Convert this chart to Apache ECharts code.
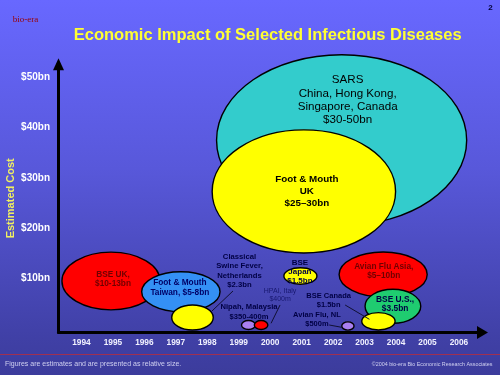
<!DOCTYPE html>
<html><head><meta charset="utf-8">
<script src="https://cdn.jsdelivr.net/npm/echarts@6/dist/echarts.min.js"></script>
<style>
html,body{margin:0;padding:0;}
#c{width:500px;height:375px;background:linear-gradient(to bottom,#6868FF 0%,#5858DA 45%,#4040A6 90%,#3C3C9C 100%);}
</style>
</head><body><div id="c"></div>
<script>
// ---- data ----
const years = [1994,1995,1996,1997,1998,1999,2000,2001,2002,2003,2004,2005,2006];
const costTicks = [10,20,30,40,50];
const diseases = ['SARS','Foot & Mouth UK','BSE UK','Foot & Mouth Taiwan','Classical Swine Fever Netherlands',
  'Nipah Malaysia','HPAI Italy','BSE Japan','Avian Flu Asia','BSE U.S.','BSE Canada','Avian Flu NL'];
const labelTexts = [
  'SARS\nChina, Hong Kong,\nSingapore, Canada\n$30-50bn',
  'Foot & Mouth\nUK\n$25\u201330bn',
  'BSE UK,\n$10-13bn',
  'Foot & Mouth\nTaiwan, $5-8bn',
  'Classical\nSwine Fever,\nNetherlands\n$2.3bn',
  'Nipah, Malaysia\n$350-400m',
  'HPAI, Italy\n$400m',
  'BSE\nJapan\n$1.5bn',
  'Avian Flu Asia,\n$5\u201310bn',
  'BSE U.S.,\n$3.5bn',
  'BSE Canada\n$1.5bn',
  'Avian Flu, NL\n$500m'
];
// bubble centre (year, $bn) and relative size (extent in years, extent in $bn)
const yearCenter = [2002.27,2001.07,1994.94,1997.16,1997.53,1999.31,1999.71,2000.96,2003.59,2003.90,2003.44,2002.47];
const costCenter = [37.5,27.3,9.47,7.34,2.21,0.72,0.72,10.47,10.77,4.44,1.45,0.52];
const yearSpan   = [7.95,5.83,3.12,2.49,1.32,0.445,0.43,1.05,2.80,1.77,1.06,0.39];
const costSpan   = [34.0,24.5,11.5,7.96,4.98,1.79,1.79,3.28,8.96,6.77,3.44,1.65];

// ---- styles / label layout (pixels) ----
const FONT = '"Liberation Sans", Arial, Helvetica, sans-serif';
const styles = [
  {fill:'#33CCCC', color:'#000000', size:11.6, bold:false, lh:13.3, off:[6,-40]},
  {fill:'#FFFF00', color:'#000000', size:9.8, bold:true, lh:12.3, off:[3,0]},
  {fill:'#FF0000', color:'#700000', size:8.3, bold:true, lh:9, off:[2,-2]},
  {fill:'#3490F5', color:'#000066', size:8.3, bold:true, lh:10, off:[-1,-4.4]},
  {fill:'#FFFF00', color:'#000044', size:7.7, bold:true, lh:9.4, off:[47,-46.7], lead:[19.5,-6.5,40.5,-26.5]},
  {fill:'#A97FF0', color:'#000044', size:7.6, bold:true, lh:9.5, off:[0.5,-13.2]},
  {fill:'#FF0000', color:'#181870', size:7, bold:false, lh:8, off:[19,-30], lead:[10,-1.7,19,-20]},
  {fill:'#FFFF00', color:'#000044', size:8, bold:true, lh:9, off:[-0.5,-4.3]},
  {fill:'#FF0000', color:'#700000', size:8.3, bold:true, lh:9, off:[0.6,-3.3]},
  {fill:'#1FCC70', color:'#000044', size:8.4, bold:true, lh:9, off:[2.2,-1.8]},
  {fill:'#FFFF00', color:'#000044', size:7.5, bold:true, lh:8.5, off:[-49.8,-21], lead:[-33.3,-16.3,-9,-2]},
  {fill:'#A97FF0', color:'#000044', size:7.5, bold:true, lh:8.5, off:[-31,-6.4], lead:[-18.7,-1,-6.3,1.3]}
];

const bubbleData = diseases.map((n,i)=>({name:n, value:[yearCenter[i],costCenter[i],yearSpan[i],costSpan[i],i]}));

const chart = echarts.init(document.getElementById('c'), null, {renderer:'canvas'});
chart.setOption({
  animation:false,
  backgroundColor:'transparent',
  grid:{left:58.5, right:17.5, top:64.3, bottom:42.5, containLabel:false},
  xAxis:{
    type:'value', min:1993.271, max:2006.748,
    splitLine:{show:false}, axisTick:{show:false},
    axisLine:{show:true, onZero:false, symbol:['none','triangle'], symbolSize:[13,11], lineStyle:{color:'#000', width:3}},
    axisLabel:{customValues:years, formatter:v=>String(Math.round(v)), color:'#F2F2FF', fontWeight:'bold', fontSize:8.3, fontFamily:FONT, margin:6.5}
  },
  yAxis:{
    type:'value', min:-0.776, max:52.6,
    splitLine:{show:false}, axisTick:{show:false},
    axisLine:{show:true, onZero:false, symbol:['none','triangle'], symbolSize:[11,12], lineStyle:{color:'#000', width:3}},
    axisLabel:{customValues:costTicks, formatter:v=>'$'+Math.round(v)+'bn', color:'#FFFFFF', fontWeight:'bold', fontSize:10, fontFamily:FONT, margin:8.5}
  },
  graphic:[
    {type:'text', x:267.7, y:35, style:{text:'Economic Impact of Selected Infectious Diseases', fill:'#FFFF33', font:'bold 16.5px '+FONT, align:'center', verticalAlign:'middle'}},
    {type:'text', x:12.7, y:20, style:{text:'bio-era', fill:'#990000', font:'9px "Liberation Serif", "Times New Roman", serif', align:'left', verticalAlign:'middle'}},
    {type:'text', x:490.5, y:7.5, style:{text:'2', fill:'#000033', font:'bold 8px '+FONT, align:'center', verticalAlign:'middle'}},
    {type:'text', x:11, y:198.3, rotation:Math.PI/2, style:{text:'Estimated Cost', fill:'#F0F060', font:'bold 11px '+FONT, align:'center', verticalAlign:'middle'}},
    {type:'line', shape:{x1:0, y1:354.5, x2:500, y2:354.5}, style:{stroke:'#A03050', lineWidth:1}},
    {type:'text', x:5, y:364.5, style:{text:'Figures are estimates and are presented as relative size.', fill:'#D0D0F0', font:'7px '+FONT, align:'left', verticalAlign:'middle'}},
    {type:'text', x:492.5, y:365, style:{text:'\u00A92004 bio-era Bio Economic Research Associates', fill:'#D0D0F0', font:'5.4px '+FONT, align:'right', verticalAlign:'middle'}}
  ],
  series:[{
    type:'custom',
    clip:false,
    encode:{x:0, y:1},
    data:bubbleData,
    renderItem:function(params, api){
      const i = api.value(4);
      const x = api.value(0), y = api.value(1);
      const c = api.coord([x,y]);
      const s = api.size([api.value(2), api.value(3)], [x,y]);
      const st = styles[i];
      const children = [{
        type:'ellipse',
        shape:{cx:c[0], cy:c[1], rx:s[0]/2, ry:s[1]/2},
        style:{fill:st.fill, stroke:'#000', lineWidth:1.4},
        z2:i
      }];
      if (st.lead) {
        children.push({type:'line', shape:{x1:c[0]+st.lead[0], y1:c[1]+st.lead[1], x2:c[0]+st.lead[2], y2:c[1]+st.lead[3]},
          style:{stroke:'#111133', lineWidth:1}, z2:50});
      }
      children.push({type:'text', x:c[0]+st.off[0], y:c[1]+st.off[1],
        style:{text:labelTexts[i], fill:st.color, fontSize:st.size, fontWeight:st.bold?'bold':'normal', fontFamily:FONT,
          align:'center', verticalAlign:'middle', lineHeight:st.lh}, z2:100});
      return {type:'group', children:children};
    }
  }]
});
</script>
</body></html>
